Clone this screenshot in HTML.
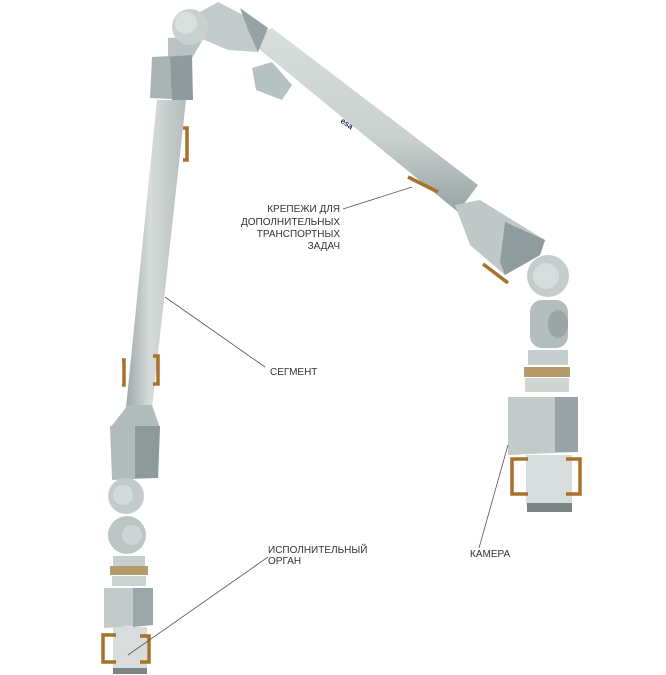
<!DOCTYPE html>
<html><head><meta charset="utf-8"><style>
html,body{margin:0;padding:0;background:#fff;width:666px;height:675px;overflow:hidden}
svg{display:block}
text{font-family:"Liberation Sans",sans-serif;font-size:10px;fill:#333}
</style></head><body>
<svg width="666" height="675" viewBox="0 0 666 675" xmlns="http://www.w3.org/2000/svg">
<defs>
<linearGradient id="tube" x1="0" y1="0" x2="1" y2="0">
<stop offset="0" stop-color="#9fa9aa"/><stop offset="0.4" stop-color="#d6dcda"/><stop offset="1" stop-color="#b4bdbc"/></linearGradient>
<linearGradient id="tube2" x1="0" y1="0" x2="0" y2="1">
<stop offset="0" stop-color="#d8dedc"/><stop offset="0.6" stop-color="#c9d0ce"/><stop offset="1" stop-color="#97a2a3"/></linearGradient>
</defs>
<g stroke="none">
<!-- left long tube -->
<polygon points="157,100 186,100 152,408 126,408" fill="url(#tube)"/>
<!-- upper left box -->
<polygon points="168,38 205,36 192,58 168,60" fill="#b8c2c2"/>
<polygon points="152,57 190,55 192,100 150,98" fill="#aab4b5"/>
<polygon points="170,57 192,55 193,100 172,100" fill="#8e9a9c"/>
<!-- right tube -->
<polygon points="248,40 272,28 478,185 458,212" fill="url(#tube2)"/>
<polygon points="252,68 272,62 292,85 282,100 256,90" fill="#b7c1c1"/>
<!-- top right box -->
<polygon points="200,12 218,2 268,28 258,52 228,50 200,38" fill="#c3cbca"/>
<polygon points="240,8 268,28 258,52 248,30" fill="#96a2a4"/>
<!-- top joint -->
<circle cx="190" cy="27" r="18" fill="#c9d0cf"/>
<circle cx="186" cy="23" r="11" fill="#d9dfdd"/>
<!-- right taper box -->
<polygon points="455,205 480,200 545,240 540,255 505,275 470,245" fill="#bfc8c7"/>
<polygon points="505,222 545,240 540,255 505,275 500,262" fill="#8f9b9d"/>
<!-- right joints -->
<circle cx="548" cy="276" r="21" fill="#c5cccb"/>
<circle cx="546" cy="276" r="13" fill="#d7dddc"/>
<rect x="530" y="300" width="38" height="48" rx="12" fill="#b3bdbd"/>
<ellipse cx="558" cy="324" rx="10" ry="14" fill="#9aa5a6"/>
<rect x="528" y="350" width="40" height="15" fill="#c6cdcc"/>
<rect x="524" y="367" width="46" height="10" fill="#b59a6a"/>
<rect x="525" y="378" width="44" height="14" fill="#d0d5d2"/>
<!-- camera box -->
<polygon points="508,397 578,397 578,452 508,455" fill="#c3cbca"/>
<polygon points="555,397 578,397 578,452 555,452" fill="#97a3a5"/>
<rect x="526" y="455" width="46" height="50" fill="#d7dddc"/>
<rect x="527" y="503" width="45" height="9" fill="#7c8486"/>
<g fill="none" stroke="#a8702a" stroke-width="3.5">
<path d="M528,459 H512 V494 H528"/><path d="M566,459 H580 V494 H566"/>
</g>
<!-- left lower taper/box -->
<polygon points="128,405 152,405 160,428 110,428" fill="#b2bcbc"/>
<polygon points="110,426 160,426 158,478 112,480" fill="#b1bbbb"/>
<polygon points="135,426 160,426 158,478 135,478" fill="#8d999b"/>
<circle cx="126" cy="496" r="18" fill="#c3cacb"/>
<circle cx="123" cy="495" r="10" fill="#d5dbda"/>
<circle cx="127" cy="535" r="19" fill="#bcc4c4"/>
<circle cx="132" cy="535" r="10" fill="#cfd5d4"/>
<rect x="113" y="556" width="32" height="10" fill="#c7cecd"/>
<rect x="110" y="566" width="38" height="9" fill="#b59a6a"/>
<rect x="112" y="576" width="34" height="10" fill="#cdd3d1"/>
<polygon points="104,588 153,588 153,625 104,628" fill="#c3cbca"/>
<polygon points="133,588 153,588 153,625 133,627" fill="#9aa6a8"/>
<rect x="113" y="627" width="34" height="43" fill="#d7dddc"/>
<rect x="113" y="668" width="34" height="6" fill="#7c8486"/>
<g fill="none" stroke="#a8702a" stroke-width="3.5">
<path d="M116,635 H103 V662 H116"/><path d="M140,636 H149 V662 H140"/>
<path d="M122,360 H124 V385 H122 M153,356 H158 V384 H153"/>
<path d="M183,128 H187 V160 H183"/>
<path d="M408,177 L438,192"/>
<path d="M483,264 L508,283"/>
</g>
<text x="340" y="122" transform="rotate(35 340 122)" style="font-size:8px;font-weight:bold;fill:#2c3360">esa</text>
</g>
<g stroke="#555" stroke-width="0.8" fill="none">
<line x1="343" y1="209" x2="412" y2="187"/>
<line x1="165" y1="297" x2="265" y2="367"/>
<line x1="268" y1="557" x2="128" y2="655"/>
<line x1="479" y1="548" x2="508" y2="445"/>
</g>
<text x="340" y="212" text-anchor="end">КРЕПЕЖИ ДЛЯ</text>
<text x="340" y="225" text-anchor="end">ДОПОЛНИТЕЛЬНЫХ</text>
<text x="340" y="237" text-anchor="end">ТРАНСПОРТНЫХ</text>
<text x="340" y="249" text-anchor="end">ЗАДАЧ</text>
<text x="270" y="375">СЕГМЕНТ</text>
<text x="268" y="553">ИСПОЛНИТЕЛЬНЫЙ</text>
<text x="268" y="564">ОРГАН</text>
<text x="470" y="557">КАМЕРА</text>
</svg>
</body></html>
